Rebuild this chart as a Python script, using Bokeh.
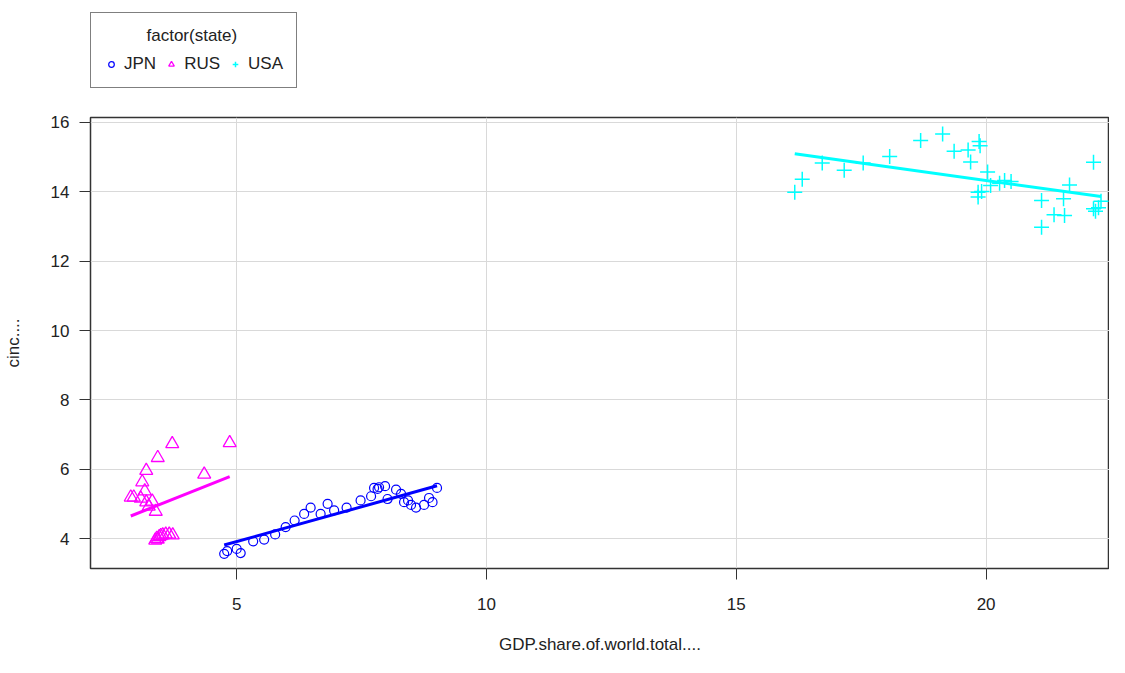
import numpy as np
from bokeh.plotting import figure
from bokeh.layouts import column
from bokeh.models import Legend, LegendItem, Range1d, FixedTicker
from bokeh.embed import file_html
from bokeh.resources import INLINE

# ---- data ----
jpn_x = [4.75, 4.81, 5.00, 5.08, 5.33, 5.55, 5.77, 5.98, 6.16, 6.35, 6.48, 6.68, 6.82, 6.95, 7.20, 7.48,
         7.69, 7.75, 7.82, 7.85, 7.97, 8.02, 8.19, 8.29, 8.35, 8.43, 8.49, 8.59, 8.75, 8.85, 8.92, 9.01]
jpn_y = [3.56, 3.64, 3.70, 3.58, 3.92, 3.97, 4.12, 4.33, 4.52, 4.71, 4.89, 4.71, 5.00, 4.81, 4.89, 5.10,
         5.22, 5.46, 5.43, 5.48, 5.51, 5.14, 5.41, 5.29, 5.05, 5.10, 4.97, 4.89, 4.97, 5.17, 5.05, 5.46]

rus_x = [3.71, 4.86, 3.42, 4.35, 3.19, 3.11, 3.16, 2.88, 2.94, 3.08, 3.19, 3.31, 3.24, 3.38,
         3.37, 3.40, 3.45, 3.52, 3.58, 3.65, 3.72, 3.42, 3.48]
rus_y = [6.73, 6.76, 6.33, 5.85, 5.96, 5.63, 5.37, 5.19, 5.19, 5.16, 5.05, 5.07, 4.93, 4.78,
         3.95, 4.00, 4.05, 4.10, 4.12, 4.12, 4.10, 3.98, 4.08]

usa_x = [16.17, 16.32, 16.72, 17.16, 17.54, 18.07, 18.69, 19.13, 19.36, 19.64, 19.69, 19.86, 19.88, 20.03,
         19.84, 19.91, 19.84, 20.09, 20.27, 20.37, 20.50, 21.11, 21.11, 21.36, 21.57, 21.55, 21.67, 22.15,
         22.15, 22.19, 22.25, 22.30]
usa_y = [13.99, 14.36, 14.83, 14.62, 14.83, 15.02, 15.48, 15.67, 15.17, 15.21, 14.86, 15.45, 15.33, 14.57,
         13.99, 14.01, 13.85, 14.18, 14.25, 14.33, 14.30, 13.75, 12.98, 13.34, 13.32, 13.80, 14.20, 14.85,
         13.51, 13.44, 13.54, 13.73]

states = ["JPN", "RUS", "USA"]
x_ticks = [5, 10, 15, 20]
y_ticks = [4, 6, 8, 10, 12, 14, 16]

FONT = "Liberation Sans"
c_jpn, c_rus, c_usa = "#0000FF", "#FF00FF", "#00FFFF"
jpn_style = dict(marker="circle", size=9, fill_color=None, line_color=c_jpn, line_width=1.2)
rus_style = dict(marker="triangle", size=13, fill_color=None, line_color=c_rus, line_width=1.3)
usa_style = dict(marker="cross", size=15, line_color=c_usa, line_width=1.5)

# ---- main plot ----
p = figure(width=1109, height=548, output_backend="svg", toolbar_location=None,
           x_range=Range1d(2.074, 22.47), y_range=Range1d(3.136, 16.144),
           min_border_left=82, min_border_right=0, min_border_bottom=89, min_border_top=8)
p.background_fill_color = "white"
p.border_fill_color = "white"
p.outline_line_color = "#333333"
p.outline_line_width = 1.5

p.xgrid.grid_line_color = "#d9d9d9"
p.ygrid.grid_line_color = "#d9d9d9"
p.xaxis.ticker = FixedTicker(ticks=x_ticks)
p.yaxis.ticker = FixedTicker(ticks=y_ticks)
for ax in (p.xaxis[0], p.yaxis[0]):
    ax.axis_line_color = None
    ax.major_tick_in = 0
    ax.major_tick_out = 11
    ax.major_tick_line_color = "#333333"
    ax.minor_tick_line_color = None
    ax.major_label_text_font = FONT
    ax.major_label_text_font_size = "17px"
    ax.major_label_text_color = "#222222"
    ax.axis_label_text_font = FONT
    ax.axis_label_text_font_size = "17px"
    ax.axis_label_text_font_style = "normal"
    ax.axis_label_text_color = "#222222"
p.xaxis.axis_label = "GDP.share.of.world.total...."
p.yaxis.axis_label = "cinc...."
p.xaxis.major_label_standoff = 18
p.xaxis.axis_label_standoff = 22
p.yaxis.major_label_standoff = 10
p.yaxis.axis_label_standoff = 25

p.scatter(jpn_x, jpn_y, **jpn_style)
p.scatter(rus_x, rus_y, **rus_style)
p.scatter(usa_x, usa_y, **usa_style)

for xs, ys, col in ((jpn_x, jpn_y, c_jpn), (rus_x, rus_y, c_rus), (usa_x, usa_y, c_usa)):
    xa, ya = np.array(xs), np.array(ys)
    b, a = np.polyfit(xa, ya, 1)
    lx = np.array([xa.min(), xa.max()])
    p.line(lx, a + b * lx, line_color=col, line_width=3)

# ---- legend strip above the plot (its key renderers sit outside its own view) ----
top = figure(width=1109, height=109, output_backend="svg", toolbar_location=None,
             x_axis_type=None, y_axis_type=None, x_range=Range1d(0, 1), y_range=Range1d(0, 1),
             min_border_left=0, min_border_right=0, min_border_top=0, min_border_bottom=0)
top.outline_line_color = None
top.xgrid.visible = False
top.ygrid.visible = False
k_jpn = top.scatter(jpn_x[:1], jpn_y[:1], **jpn_style)
k_rus = top.scatter(rus_x[:1], rus_y[:1], **rus_style)
k_usa = top.scatter(usa_x[:1], usa_y[:1], **usa_style)

legend = Legend(items=[LegendItem(label=states[0], renderers=[k_jpn]),
                       LegendItem(label=states[1], renderers=[k_rus]),
                       LegendItem(label=states[2], renderers=[k_usa])],
                orientation="horizontal", location=(0, 21),
                title="\u00a0" * 9 + "factor(state)")
legend.title_text_font = FONT
legend.title_text_font_size = "17px"
legend.title_text_font_style = "normal"
legend.title_text_color = "#222222"
legend.label_text_font = FONT
legend.label_text_font_size = "17px"
legend.label_text_color = "#222222"
legend.border_line_color = "black"
legend.border_line_width = 1.5
legend.background_fill_alpha = 1.0
legend.glyph_width = 14
legend.label_standoff = 6
legend.spacing = 8
legend.padding = 13
legend.margin = 0
legend.title_standoff = 8
top.add_layout(legend, "center")

layout = column(top, p, spacing=0)
open("out.html", "w").write(file_html(layout, INLINE))
